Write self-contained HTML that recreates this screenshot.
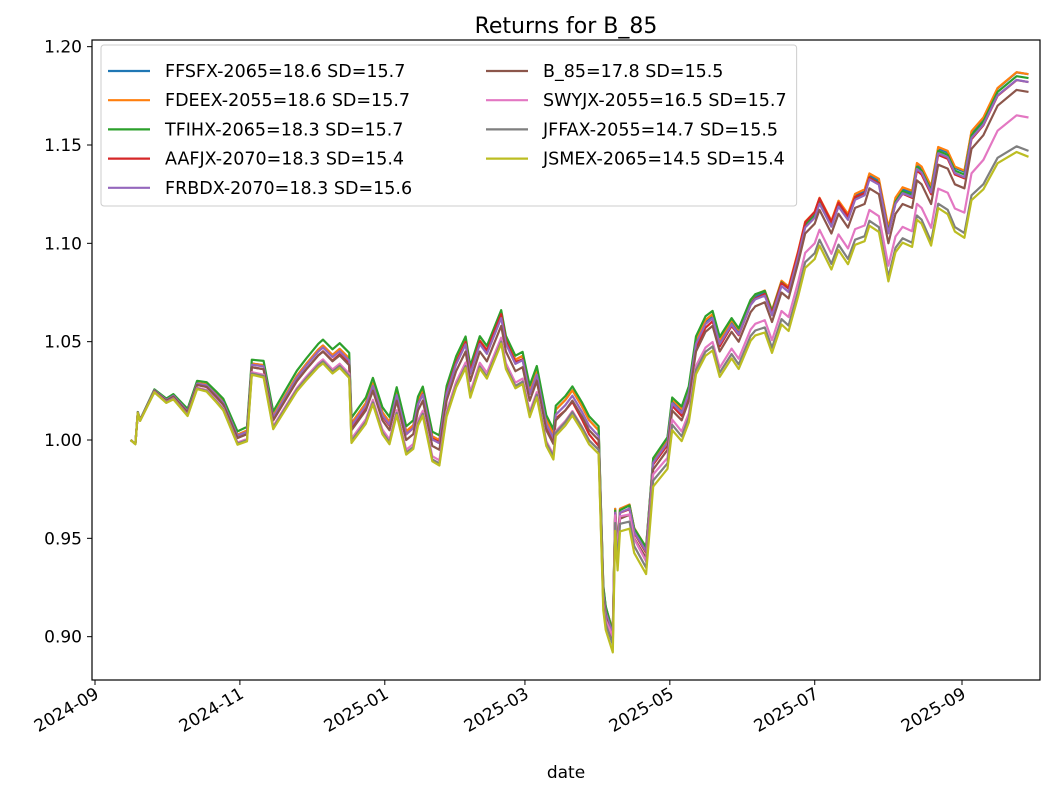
<!DOCTYPE html>
<html><head><meta charset="utf-8"><style>
body{margin:0;background:#fff;font-family:"Liberation Sans","DejaVu Sans",sans-serif;}
svg text{font-family:"DejaVu Sans","Liberation Sans",sans-serif;}
</style></head><body>
<svg id="chart" width="1054" height="795" xmlns="http://www.w3.org/2000/svg">
<rect x="0" y="0" width="1054" height="795" fill="#fff"/>
<text x="566" y="33" font-size="22" text-anchor="middle">Returns for B_85</text>
<g id="plot"></g>
</svg>
<script>
const dates=["2024-09-16","2024-09-18","2024-09-19","2024-09-20","2024-09-26","2024-10-01","2024-10-04","2024-10-10","2024-10-14","2024-10-18","2024-10-22","2024-10-25","2024-10-31","2024-11-04","2024-11-06","2024-11-11","2024-11-15","2024-11-20","2024-11-25","2024-11-29","2024-12-04","2024-12-06","2024-12-10","2024-12-13","2024-12-17","2024-12-18","2024-12-24","2024-12-27","2024-12-31","2025-01-03","2025-01-06","2025-01-10","2025-01-13","2025-01-15","2025-01-17","2025-01-21","2025-01-24","2025-01-27","2025-01-31","2025-02-04","2025-02-06","2025-02-10","2025-02-13","2025-02-18","2025-02-19","2025-02-21","2025-02-25","2025-02-28","2025-03-03","2025-03-06","2025-03-10","2025-03-13","2025-03-14","2025-03-18","2025-03-21","2025-03-25","2025-03-28","2025-04-01","2025-04-03","2025-04-04","2025-04-07","2025-04-08","2025-04-09","2025-04-10","2025-04-14","2025-04-16","2025-04-21","2025-04-24","2025-04-30","2025-05-02","2025-05-06","2025-05-09","2025-05-12","2025-05-16","2025-05-19","2025-05-22","2025-05-27","2025-05-30","2025-06-04","2025-06-06","2025-06-10","2025-06-13","2025-06-17","2025-06-20","2025-06-24","2025-06-27","2025-07-01","2025-07-03","2025-07-08","2025-07-11","2025-07-15","2025-07-18","2025-07-22","2025-07-24","2025-07-28","2025-08-01","2025-08-04","2025-08-07","2025-08-11","2025-08-13","2025-08-15","2025-08-19","2025-08-22","2025-08-26","2025-08-29","2025-09-02","2025-09-05","2025-09-10","2025-09-12","2025-09-16","2025-09-24","2025-09-29"];
const baseValues=[1.000,0.998,1.014,1.010,1.025,1.020,1.022,1.014,1.028,1.027,1.022,1.018,1.001,1.003,1.037,1.036,1.010,1.020,1.030,1.036,1.043,1.045,1.040,1.043,1.038,1.005,1.015,1.025,1.010,1.005,1.020,1.000,1.003,1.015,1.020,0.997,0.995,1.020,1.035,1.045,1.030,1.045,1.040,1.055,1.058,1.045,1.035,1.037,1.020,1.030,1.005,0.998,1.010,1.015,1.020,1.012,1.005,1.000,0.920,0.910,0.898,0.960,0.940,0.960,0.962,0.950,0.940,0.985,0.995,1.015,1.010,1.020,1.045,1.055,1.058,1.045,1.055,1.050,1.065,1.068,1.070,1.060,1.075,1.072,1.090,1.105,1.110,1.117,1.105,1.115,1.108,1.118,1.120,1.128,1.125,1.100,1.115,1.120,1.118,1.132,1.130,1.120,1.140,1.138,1.130,1.128,1.148,1.155,1.160,1.170,1.178,1.177];
const knotDates=["2024-09-16","2024-12-05","2025-02-19","2025-04-01","2025-04-07","2025-05-15","2025-07-01","2025-08-15","2025-09-29"];
const seriesNames=["FFSFX-2065=18.6 SD=15.7","FDEEX-2055=18.6 SD=15.7","TFIHX-2065=18.3 SD=15.7","AAFJX-2070=18.3 SD=15.4","FRBDX-2070=18.3 SD=15.6","B_85=17.8 SD=15.5","SWYJX-2055=16.5 SD=15.7","JFFAX-2055=14.7 SD=15.5","JSMEX-2065=14.5 SD=15.4"];
const offFFSFX=[0,.003,.006,.005,.005,.005,.005,.008,.009];
const offFDEEX=[0,.003,.006,.005,.005,.006,.006,.009,.009];
const offTFIHX=[0,.006,.008,.007,.004,.008,.004,.007,.007];
const offAAFJX=[0,0,.006,-.003,.003,.002,.006,.005,.005];
const offFRBDX=[0,.002,.004,.002,.003,.004,.003,.006,.005];
const offB85=[0,0,0,0,0,0,0,0,0];
const offSWYJX=[0,-.004,-.006,-.005,.002,-.008,-.010,-.012,-.013];
const offJFFAX=[0,-.005,-.008,-.005,-.002,-.010,-.015,-.018,-.030];
const offJSMEX=[0,-.006,-.009,-.007,-.006,-.012,-.018,-.020,-.033];
const seriesOffsets=[offFFSFX,offFDEEX,offTFIHX,offAAFJX,offFRBDX,offB85,offSWYJX,offJFFAX,offJSMEX];
const colors=["#1f77b4","#ff7f0e","#2ca02c","#d62728","#9467bd","#8c564b","#e377c2","#7f7f7f","#bcbd22"];
const yTicks=[0.90,0.95,1.00,1.05,1.10,1.15,1.20];
const xTicks=["2024-09","2024-11","2025-01","2025-03","2025-05","2025-07","2025-09"];

const NS="http://www.w3.org/2000/svg";
const L=92,R=1040,T=40,B=680;
const t0=Date.parse("2024-09-01"),t1=Date.parse("2025-09-01");
const X=d=>95+(Date.parse(d)-t0)/(t1-t0)*867;
const Y=v=>440-(v-1)*1966.7;
const g=document.getElementById('plot');
function mk(tag,attrs){const e=document.createElementNS(NS,tag);for(const k in attrs)e.setAttribute(k,attrs[k]);g.appendChild(e);return e;}
function offAt(arr,d){const t=Date.parse(d);for(let i=0;i<knotDates.length-1;i++){const a=Date.parse(knotDates[i]),b=Date.parse(knotDates[i+1]);if(t<=b){const f=Math.max(0,(t-a)/(b-a));return arr[i]+(arr[i+1]-arr[i])*f;}}return arr[arr.length-1];}

seriesOffsets.forEach((off,si)=>{
  const pts=dates.map((d,i)=>X(d).toFixed(1)+","+Y(baseValues[i]+offAt(off,d)).toFixed(1)).join(" ");
  const p=mk('polyline',{points:pts,fill:'none',stroke:colors[si],'stroke-width':2.2,'stroke-linejoin':'round'});
  
  
});
const frame=mk('rect',{x:L,y:T,width:R-L,height:B-T,fill:'none',stroke:'#000','stroke-width':1.2});


yTicks.forEach(v=>{
  const y=Y(v);
  const tk=mk('line',{x1:L-5,x2:L,y1:y,y2:y,stroke:'#000'});
  
  
  const tx=mk('text',{x:L-10,y:y+6,'font-size':17,'text-anchor':'end'});
  tx.textContent=v.toFixed(2);
  
  
});
xTicks.forEach(d=>{
  const x=X(d+"-01");
  const tk=mk('line',{x1:x,x2:x,y1:B,y2:B+5,stroke:'#000'});
  
  
  const tx=mk('text',{x:x+5,y:B+17,'font-size':17,'text-anchor':'end',transform:`rotate(-30 ${x+5} ${B+17})`});
  tx.textContent=d;
  
  
});
const xl=mk('text',{x:566,y:778,'font-size':17,'text-anchor':'middle'});
xl.textContent='date';


const lb=mk('rect',{x:101,y:45,width:729,height:161,rx:3,fill:'#fff','fill-opacity':0.8,stroke:'#ccc'});


let maxRight=0;
seriesNames.forEach((n,i)=>{
  const col=i<5?0:1,row=i<5?i:i-5;
  const x=108+col*378,y=71+row*29.2;
  const ln=mk('line',{x1:x,x2:x+42,y1:y,y2:y,stroke:colors[i],'stroke-width':2.2});
  
  
  const tx=mk('text',{x:x+57,y:y+6,'font-size':17.5});
  tx.textContent=n;
  
  
  maxRight=Math.max(maxRight,x+57+tx.getComputedTextLength());
});
lb.setAttribute('width',Math.max(300,maxRight+10-101));
</script>
</body></html>
